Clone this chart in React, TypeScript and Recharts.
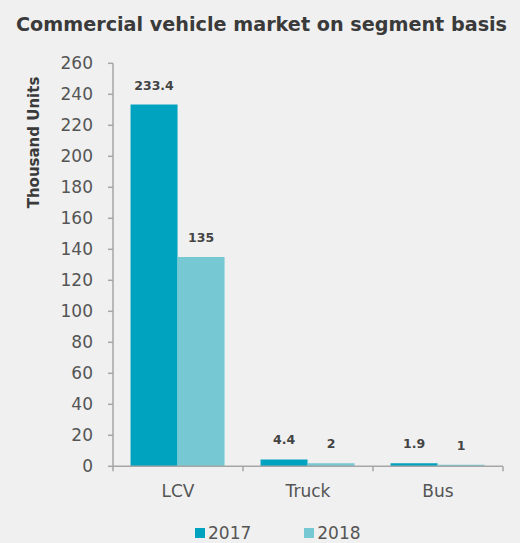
import React from 'react';
import { BarChart, Bar, XAxis, YAxis, LabelList, Legend } from 'recharts';

const categories = ['LCV', 'Truck', 'Bus'];
const values2017 = [233.4, 4.4, 1.9];
const values2018 = [135, 2, 1];
const seriesNames = ['2017', '2018'];
const yTicks = [0, 20, 40, 60, 80, 100, 120, 140, 160, 180, 200, 220, 240, 260];
const titleText = 'Commercial vehicle market on segment basis';
const yAxisTitle = 'Thousand Units';

const COLOR_2017 = '#00a3bf';
const COLOR_2018 = '#76c8d3';
const BG = '#f0f0f0';
const AXIS = '#a6a6a6';
const TICK_TEXT = '#555555';
const FONT = '"DejaVu Sans", Verdana, sans-serif';

const data = categories.map((c, i) => ({
  category: c,
  s2017: values2017[i],
  s2018: values2018[i],
}));

const X_TICK_SIZE = 5;
const X_TICK_MARGIN = 14;

const XTick = (props: any) => {
  const { x, y, payload, index } = props;
  const off = payload && typeof payload.offset === 'number' ? payload.offset : 65;
  const axisY = y - X_TICK_SIZE - X_TICK_MARGIN;
  return (
    <g>
      <line x1={x - off} x2={x - off} y1={axisY} y2={axisY + 5} stroke={AXIS} strokeWidth={1.5} />
      {index === categories.length - 1 && (
        <line x1={x + off} x2={x + off} y1={axisY} y2={axisY + 5} stroke={AXIS} strokeWidth={1.5} />
      )}
      <text x={x} y={y} dy="0.71em" textAnchor="middle" fill={TICK_TEXT} fontSize={17} fontFamily={FONT}>
        {payload.value}
      </text>
    </g>
  );
};

const YTitle = () => (
  <text
    x={33.7}
    y={142.5}
    transform="rotate(-90 33.7 142.5)"
    textAnchor="middle"
    dominantBaseline="central"
    fill="#3a3a3a"
    fontSize={15}
    fontWeight="bold"
    fontFamily={FONT}
  >
    {yAxisTitle}
  </text>
);

const LegendContent = (props: any) => {
  const items = props.payload || [];
  return (
    <div style={{ display: 'flex', alignItems: 'center', paddingLeft: 195, height: 20, fontFamily: FONT, fontSize: 17, color: TICK_TEXT }}>
      {items.map((it: any, i: number) => (
        <div key={i} style={{ display: 'flex', alignItems: 'center', marginRight: 53 }}>
          <span style={{ display: 'inline-block', width: 10, height: 10, background: it.color, marginRight: 3 }} />
          <span style={{ lineHeight: '20px' }}>{it.value}</span>
        </div>
      ))}
    </div>
  );
};

export default function App() {
  return (
    <div style={{ position: 'absolute', left: 0, top: 0, width: 520, height: 543, background: BG, overflow: 'hidden' }}>
      <svg width={520} height={50} style={{ position: 'absolute', left: 0, top: 0 }}>
        <text
          x={261.5}
          y={31}
          textAnchor="middle"
          fill="#3a3a3a"
          fontSize={19.2}
          fontWeight="bold"
          fontFamily={FONT}
        >
          {titleText}
        </text>
      </svg>
      <div style={{ position: 'absolute', left: 0, top: 0 }}>
        <BarChart
          width={520}
          height={543}
          data={data}
          margin={{ top: 63.3, right: 17, left: 53, bottom: 26.7 }}
          barCategoryGap="13.5%"
          barGap={0}
        >
          <XAxis
            dataKey="category"
            height={30}
            axisLine={{ stroke: AXIS, strokeWidth: 1.5 }}
            tickLine={false}
            tickSize={X_TICK_SIZE}
            tickMargin={X_TICK_MARGIN}
            tick={<XTick />}
            interval={0}
          />
          <YAxis
            width={60}
            domain={[0, 260]}
            ticks={yTicks}
            interval={0}
            axisLine={{ stroke: AXIS, strokeWidth: 1.5 }}
            tickLine={{ stroke: AXIS, strokeWidth: 1.5 }}
            tickSize={5}
            tickMargin={15}
            tick={{ fill: TICK_TEXT, fontSize: 17, fontFamily: FONT }}
            label={<YTitle />}
          />
          <Legend
            verticalAlign="bottom"
            wrapperStyle={{ left: 0, top: 523, bottom: 'auto', width: 520 }}
            content={<LegendContent />}
          />
          <Bar dataKey="s2017" name={seriesNames[0]} fill={COLOR_2017} isAnimationActive={false}>
            <LabelList dataKey="s2017" position="top" offset={15} fill="#444444" fontSize={12.5} fontWeight="bold" fontFamily={FONT} />
          </Bar>
          <Bar dataKey="s2018" name={seriesNames[1]} fill={COLOR_2018} isAnimationActive={false}>
            <LabelList dataKey="s2018" position="top" offset={15} fill="#444444" fontSize={12.5} fontWeight="bold" fontFamily={FONT} />
          </Bar>
        </BarChart>
      </div>
    </div>
  );
}
